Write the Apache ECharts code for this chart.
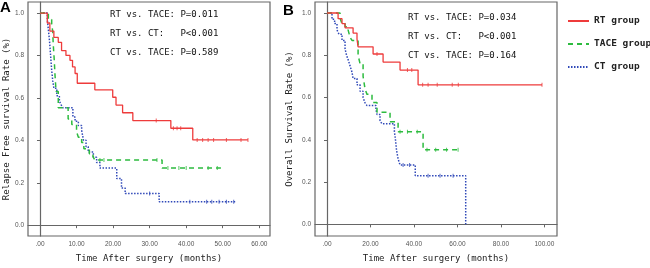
<!DOCTYPE html>
<html>
<head>
<meta charset="utf-8">
<script src="https://cdn.jsdelivr.net/npm/echarts@6/dist/echarts.min.js"></script>
<style>
  html, body { margin: 0; padding: 0; background: #fff; }
  #chart { width: 650px; height: 268px; }
</style>
</head>
<body>
<div id="chart"></div>
<script>
// panel A: relapse free survival (months, rate after each step)
var rfsRtTime = [0, 2.0, 2.7, 3.8, 5.0, 5.9, 7.1, 8.2, 8.9, 9.6, 10.2, 15.0, 19.9, 20.8, 22.6, 25.4, 35.8, 41.8, 56.9];
var rfsRtRate = [1, 0.953, 0.915, 0.885, 0.862, 0.823, 0.80, 0.777, 0.746, 0.715, 0.669, 0.638, 0.603, 0.566, 0.53, 0.493, 0.457, 0.402, 0.402];
var rfsTaceTime = [0, 2.3, 3.2, 3.5, 3.6, 3.9, 4.1, 4.4, 5.0, 7.7, 8.7, 10.0, 10.5, 11.4, 12.0, 13.5, 14.5, 15.0, 33.4, 49.5];
var rfsTaceRate = [1, 0.97, 0.95, 0.91, 0.86, 0.78, 0.71, 0.63, 0.554, 0.50, 0.475, 0.44, 0.415, 0.39, 0.36, 0.337, 0.323, 0.307, 0.269, 0.269];
var rfsCtTime = [0, 2.0, 2.3, 2.6, 2.9, 3.2, 3.5, 3.8, 4.6, 5.3, 5.8, 6.3, 9.0, 9.6, 10.5, 11.4, 11.9, 12.6, 13.2, 14.6, 15.5, 16.4, 21.0, 22.3, 23.3, 32.6, 53.4];
var rfsCtRate = [1, 0.97, 0.92, 0.87, 0.80, 0.73, 0.68, 0.645, 0.61, 0.585, 0.567, 0.553, 0.51, 0.49, 0.47, 0.447, 0.40, 0.37, 0.345, 0.32, 0.295, 0.269, 0.22, 0.175, 0.149, 0.11, 0.11];
var rfsRtCensor = [31.8, 36.5, 37.5, 38.5, 43, 44.5, 46, 47.5, 51, 55, 56.9];
var rfsTaceCensor = [16.4, 17.5, 32.0, 35.0, 38.0, 40.0, 46.0, 48.5];
var rfsCtCensor = [30.0, 41.0, 45.6, 47, 49, 51, 53];

// panel B: overall survival
var osRtTime = [0, 5.1, 6.9, 8.3, 12.0, 13.8, 14.3, 21.2, 25.8, 33.6, 41.9, 98.9];
var osRtRate = [1, 0.973, 0.95, 0.93, 0.905, 0.876, 0.84, 0.806, 0.768, 0.73, 0.66, 0.66];
var osTaceTime = [0, 6.0, 6.9, 8.3, 9.7, 10.6, 11.5, 14.3, 15.2, 16.6, 17.5, 18.4, 20.7, 23.0, 29.0, 32.7, 44.2, 60.3];
var osTaceRate = [1, 0.975, 0.95, 0.935, 0.92, 0.885, 0.87, 0.80, 0.76, 0.70, 0.64, 0.615, 0.576, 0.53, 0.485, 0.438, 0.353, 0.353];
var osCtTime = [0, 2.3, 3.5, 4.6, 5.5, 6.9, 8.3, 9.0, 9.7, 10.6, 11.5, 12.0, 13.8, 15.2, 16.6, 17.5, 18.4, 22.5, 23.0, 24.4, 25.3, 31.0, 31.5, 32.0, 32.7, 33.6, 40.6, 63.8];
var osCtRate = [1, 0.97, 0.95, 0.92, 0.90, 0.87, 0.83, 0.80, 0.78, 0.75, 0.72, 0.69, 0.66, 0.63, 0.60, 0.575, 0.562, 0.545, 0.52, 0.49, 0.476, 0.44, 0.40, 0.35, 0.31, 0.281, 0.23, 0];
var osRtCensor = [23, 37, 39, 44, 46.5, 50.7, 57.6, 60.4, 98.9];
var osTaceCensor = [33.6, 37, 41.5, 46, 50, 55, 60.3];
var osCtCensor = [35, 38, 46.5, 52, 58];

var rfsTicks = [0, 10, 20, 30, 40, 50, 60];
var osTicks = [0, 20, 40, 60, 80, 100];
var rateTicks = [0, 0.2, 0.4, 0.6, 0.8, 1.0];

var groups = ['RT group', 'TACE group', 'CT group'];
var pTextA = ['RT vs. TACE: P=0.011', 'RT vs. CT:   P<0.001', 'CT vs. TACE: P=0.589'];
var pTextB = ['RT vs. TACE: P=0.034', 'RT vs. CT:   P<0.001', 'CT vs. TACE: P=0.164'];

var colors = ['#ee3b3b', '#2dbb3f', '#2f48b8'];
var dashes = ['solid', [5, 4], [1.5, 1.5]];
var mono = '"DejaVu Sans Mono", monospace';

function pairs(t, s) {
    return t.map(function (v, i) { return [v, s[i]]; });
}

// value of the step curve at time t
function rateAt(t, times, rates) {
    var r = rates[0];
    for (var i = 0; i < times.length; i++) {
        if (times[i] <= t) r = rates[i];
    }
    return r;
}

var chart = echarts.init(document.getElementById('chart'));

function xAxisFor(idx, min, max, ticks, name) {
    return {
        type: 'value', gridIndex: idx, min: min, max: max,
        splitLine: { show: false },
        axisLine: { lineStyle: { color: '#666', width: 1.2 } },
        axisTick: { length: 3, lineStyle: { color: '#666' }, customValues: ticks },
        axisLabel: {
            customValues: ticks, fontSize: 6.5, color: '#555', margin: 5,
            fontFamily: 'Liberation Sans',
            formatter: function (v) { return v === 0 ? '.00' : v.toFixed(2); }
        },
        name: name, nameLocation: 'middle', nameGap: 18,
        nameTextStyle: { fontFamily: mono, fontSize: 9, color: '#222' }
    };
}

function yAxisFor(idx, min, name, gap) {
    return {
        type: 'value', gridIndex: idx, min: min, max: 1.052,
        splitLine: { show: false },
        axisLine: { lineStyle: { color: '#666', width: 1.2 } },
        axisTick: { length: 3, lineStyle: { color: '#666' }, customValues: rateTicks },
        axisLabel: {
            customValues: rateTicks, fontSize: 6.5, color: '#555', margin: 4,
            fontFamily: 'Liberation Sans',
            formatter: function (v) { return v.toFixed(1); }
        },
        name: name, nameLocation: 'middle', nameGap: gap, nameRotate: 90,
        nameTextStyle: { fontFamily: mono, fontSize: 9, color: '#222' }
    };
}

var series = [];
var curves = [
    [rfsRtTime, rfsRtRate, rfsRtCensor, rfsTaceTime, rfsTaceRate, rfsTaceCensor, rfsCtTime, rfsCtRate, rfsCtCensor],
    [osRtTime, osRtRate, osRtCensor, osTaceTime, osTaceRate, osTaceCensor, osCtTime, osCtRate, osCtCensor]
];
curves.forEach(function (c, p) {
    for (var g = 0; g < 3; g++) {
        var times = c[g * 3], rates = c[g * 3 + 1], cens = c[g * 3 + 2];
        series.push({
            type: 'line', name: groups[g], xAxisIndex: p, yAxisIndex: p,
            step: 'end', showSymbol: false, symbol: 'none',
            data: pairs(times, rates),
            lineStyle: { color: colors[g], width: g === 0 ? 1.3 : 1.5, type: dashes[g] },
            itemStyle: { color: colors[g] },
            z: 3 - g
        });
        series.push({
            type: 'scatter', name: groups[g] + ' censored ' + p, xAxisIndex: p, yAxisIndex: p,
            symbol: 'rect', symbolSize: [1, 4],
            data: cens.map(function (t) { return [t, rateAt(t, times, rates)]; }),
            itemStyle: { color: colors[g] },
            z: 3 - g
        });
    }
});

var graphics = [
    { type: 'text', left: 0, top: 0, style: { text: 'A', font: 'bold 15px Arial', fill: '#000' } },
    { type: 'text', left: 283, top: 3, style: { text: 'B', font: 'bold 15px Arial', fill: '#000' } }
];
pTextA.forEach(function (t, i) {
    graphics.push({ type: 'text', left: 110, top: 10 + i * 19, style: { text: t, font: '9px ' + mono, fill: '#111' } });
});
pTextB.forEach(function (t, i) {
    graphics.push({ type: 'text', left: 408, top: 13 + i * 19, style: { text: t, font: '9px ' + mono, fill: '#111' } });
});

chart.setOption({
    animation: false,
    color: colors,
    grid: [
        { left: 28, top: 2, width: 242, height: 239, show: true, borderColor: '#666', borderWidth: 1.2, containLabel: false },
        { left: 315, top: 2, width: 242, height: 240, show: true, borderColor: '#666', borderWidth: 1.2, containLabel: false }
    ],
    xAxis: [
        xAxisFor(0, -3.28, 62.93, rfsTicks, 'Time After surgery (months)'),
        xAxisFor(1, -5.52, 105.8, osTicks, 'Time After surgery (months)')
    ],
    yAxis: [
        yAxisFor(0, -0.051, 'Relapse Free survival Rate (%)', 14),
        yAxisFor(1, -0.055, 'Overall Survival Rate (%)', 21)
    ],
    legend: {
        data: groups, orient: 'vertical', left: 562, top: 11,
        itemWidth: 21, itemHeight: 10, itemGap: 13,
        itemStyle: { opacity: 0 },
        textStyle: { fontFamily: mono, fontSize: 9.5, color: '#222', fontWeight: 'bold' }
    },
    graphic: graphics,
    series: series
});
</script>
</body>
</html>
